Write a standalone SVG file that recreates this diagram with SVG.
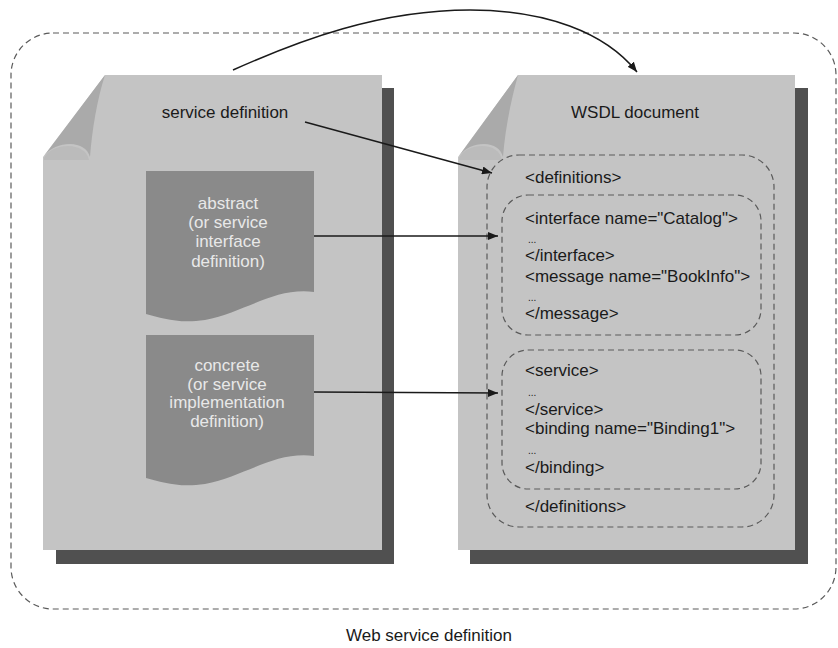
<svg xmlns="http://www.w3.org/2000/svg" width="838" height="648" viewBox="0 0 838 648">
<defs>
<marker id="ah" viewBox="0 0 10 8" refX="10" refY="4" markerWidth="10" markerHeight="8" markerUnits="userSpaceOnUse" orient="auto">
<path d="M0,0 L10,4 L0,8 Z" fill="#1a1a1a"/>
</marker>
<style>
text{font-family:"Liberation Sans",Arial,sans-serif;font-size:17px;fill:#1a1a1a}
.page{fill:#c4c4c4}
.shadow{fill:#505050}
.flap{fill:#aaaaaa}
.curl{fill:#bbbbbb}
.box{fill:#8a8a8a}
.btxt{fill:#e8e8e8;text-anchor:middle}
.dots{font-size:10px}
.dash{fill:none;stroke:#5a5a5a;stroke-width:1.2;stroke-dasharray:6 4}
.conn{fill:none;stroke:#1a1a1a;stroke-width:1.5}
</style>
</defs>
<rect x="0" y="0" width="838" height="648" fill="#ffffff"/>
<rect id="frame" x="11" y="33" width="825" height="576" rx="42" class="dash" stroke-dasharray="7 4"/>

<g id="service-definition">
<rect class="shadow" x="382" y="88" width="12" height="476"/>
<rect class="shadow" x="56" y="550" width="338" height="14"/>
<path class="page" d="M105,75 H382 V550 H43 V157 Z"/>
<path class="flap" d="M105,75 L44,156 C50,148 60,144 70,144 C80,144 88,149 90,157 C92,130 97,100 105,75 Z"/>
<path class="curl" d="M44,158 C48,150 58,146 68,146 C79,146 87,151 89,160 L44,160 Z"/>
<text x="225" y="118" text-anchor="middle">service definition</text>
</g>

<g id="abstract">
<path class="box" d="M146,171 H314 V292 C275,287 245,312 205,320 C178,324 162,318 146,314 Z"/>
<text class="btxt" x="228" y="209">abstract</text>
<text class="btxt" x="228" y="228">(or service</text>
<text class="btxt" x="228" y="247">interface</text>
<text class="btxt" x="228" y="267">definition)</text>
</g>

<g id="concrete">
<path class="box" d="M146,335 H314 V456 C275,451 245,476 205,484 C178,488 162,482 146,478 Z"/>
<text class="btxt" x="227" y="371">concrete</text>
<text class="btxt" x="227" y="390">(or service</text>
<text class="btxt" x="227" y="408">implementation</text>
<text class="btxt" x="227" y="427">definition)</text>
</g>

<g id="wsdl-document">
<rect class="shadow" x="795" y="88" width="13" height="476"/>
<rect class="shadow" x="470" y="550" width="338" height="14"/>
<path class="page" d="M518,75 H795 V550 H458 V157 Z"/>
<path class="flap" d="M518,75 L459,156 C465,148 474,144 484,144 C494,144 501,149 503,157 C505,130 511,100 518,75 Z"/>
<path class="curl" d="M459,158 C463,150 472,146 482,146 C493,146 500,151 502,160 L459,160 Z"/>
<text x="635" y="118" text-anchor="middle">WSDL document</text>
</g>

<g id="definitions">
<rect class="dash" x="487" y="155" width="287" height="372" rx="32"/>
<text x="525" y="183">&lt;definitions&gt;</text>
<text x="525" y="512">&lt;/definitions&gt;</text>
</g>

<g id="interface-section">
<rect class="dash" x="502" y="195" width="259" height="140" rx="26"/>
<text x="525" y="224">&lt;interface name="Catalog"&gt;</text>
<text class="dots" x="528" y="243">...</text>
<text x="525" y="261">&lt;/interface&gt;</text>
<text x="525" y="282">&lt;message name="BookInfo"&gt;</text>
<text class="dots" x="528" y="301">...</text>
<text x="525" y="319">&lt;/message&gt;</text>
</g>

<g id="service-section">
<rect class="dash" x="502" y="350" width="259" height="139" rx="26"/>
<text x="525" y="376">&lt;service&gt;</text>
<text class="dots" x="528" y="396">...</text>
<text x="525" y="415">&lt;/service&gt;</text>
<text x="525" y="434">&lt;binding name="Binding1"&gt;</text>
<text class="dots" x="528" y="454">...</text>
<text x="525" y="473">&lt;/binding&gt;</text>
</g>

<g id="connectors">
<path class="conn" d="M233,70 C300,40 380,10 470,10 C545,10 605,32 637,72" marker-end="url(#ah)"/>
<path class="conn" d="M305,122 L492,173" marker-end="url(#ah)"/>
<path class="conn" d="M314,236 L498,236" marker-end="url(#ah)"/>
<path class="conn" d="M314,392 L498,393" marker-end="url(#ah)"/>
</g>

<text x="429" y="641" text-anchor="middle">Web service definition</text>
</svg>
